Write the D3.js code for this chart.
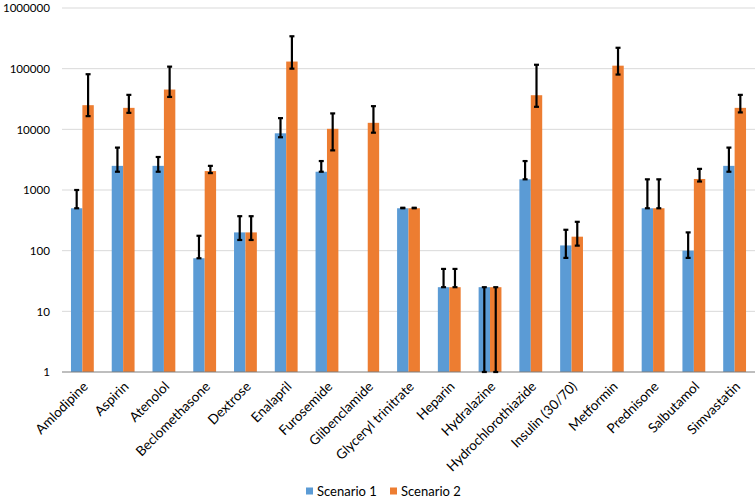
<!DOCTYPE html>
<html><head><meta charset="utf-8">
<script src="https://cdn.jsdelivr.net/npm/d3@7"></script>
<style>body{margin:0;background:#fff}svg{display:block}</style>
</head><body>
<svg id="c" width="756" height="499"></svg>
<script>
const categories = ["Amlodipine","Aspirin","Atenolol","Beclomethasone","Dextrose","Enalapril","Furosemide","Glibenclamide","Glyceryl trinitrate","Heparin","Hydralazine","Hydrochlorothiazide","Insulin (30/70)","Metformin","Prednisone","Salbutamol","Simvastatin"];
const scenario1 = [500,2500,2500,75,200,8600,2000,null,500,25,25,1500,122,null,500,100,2500];
const scenario1Low = [500,2000,2000,75,150,7400,2000,null,500,25,0,1500,76,null,500,76,2000];
const scenario1High = [1000,5000,3500,176,370,15300,3000,null,510,50,25,3000,221,null,1500,200,5000];
const scenario2 = [25000,22600,45300,2050,200,131000,10200,12800,500,25,25,36500,170,112000,500,1520,22600];
const scenario2Low = [16500,18700,34200,1900,150,100000,4500,8800,500,25,0,23500,121,80000,500,1380,19000];
const scenario2High = [81000,37000,108000,2500,370,342000,18300,24100,510,50,25,116000,299,221000,1500,2230,37000];
const yTicks = [1,10,100,1000,10000,100000,1000000];
const seriesNames = ["Scenario 1","Scenario 2"];
const colors = ["#5B9BD5","#ED7D31"];

const svg = d3.select("#c");
const m = {left:62, right:1, top:8, bottom:372};
const x = d3.scaleBand().domain(categories).range([m.left, 756-m.right]).paddingInner(0.44).paddingOuter(0.22);
const x1 = d3.scaleBand().domain([0,1]).range([0, x.bandwidth()]);
const y = d3.scaleLog().domain([1,1000000]).range([m.bottom, m.top]);
const font = "Lato, 'Liberation Sans', sans-serif";

// gridlines
svg.append("g").selectAll("line").data(yTicks.slice(1)).join("line")
  .attr("x1", m.left).attr("x2", 756-m.right)
  .attr("y1", d=>y(d)).attr("y2", d=>y(d))
  .attr("stroke","#D9D9D9").attr("stroke-width",1);

// y labels
svg.append("g").selectAll("text").data(yTicks).join("text")
  .attr("x", 50).attr("y", d=>y(d)).attr("dy","0.36em")
  .attr("text-anchor","end").attr("font-family",font).attr("font-size",11.6).attr("fill","#000")
  .text(d=>d3.format("d")(d));

const series = [
  {v:scenario1, lo:scenario1Low, hi:scenario1High},
  {v:scenario2, lo:scenario2Low, hi:scenario2High}
];

series.forEach((s,si)=>{
  const data = categories.map((c,i)=>({c, v:s.v[i], lo:s.lo[i], hi:s.hi[i]})).filter(d=>d.v!=null);
  svg.append("g").selectAll("rect").data(data).join("rect")
    .attr("x", d=>x(d.c)+x1(si)).attr("width", x1.bandwidth())
    .attr("y", d=>y(d.v)).attr("height", d=>y(1)-y(d.v))
    .attr("fill", colors[si]);
});

// axis line
svg.append("line").attr("x1",m.left).attr("x2",756-m.right).attr("y1",y(1)).attr("y2",y(1))
  .attr("stroke","#7F7F7F").attr("stroke-width",1.2);

// error bars
series.forEach((s,si)=>{
  const data = categories.map((c,i)=>({c, v:s.v[i], lo:s.lo[i], hi:s.hi[i]})).filter(d=>d.v!=null);
  const g = svg.append("g").attr("stroke","#000").attr("stroke-width",2.2);
  data.forEach(d=>{
    const cx = x(d.c)+x1(si)+x1.bandwidth()/2;
    const yl = y(Math.max(1,d.lo)), yh = y(d.hi);
    g.append("line").attr("x1",cx).attr("x2",cx).attr("y1",yl).attr("y2",yh);
    g.append("line").attr("x1",cx-2.5).attr("x2",cx+2.5).attr("y1",yh).attr("y2",yh);
    g.append("line").attr("x1",cx-2.5).attr("x2",cx+2.5).attr("y1",yl).attr("y2",yl);
  });
});

// x labels
svg.append("g").selectAll("text").data(categories).join("text")
  .attr("transform", d=>`translate(${x(d)+x.bandwidth()/2+3},${m.bottom+12}) rotate(-45)`)
  .attr("text-anchor","end").attr("dy","0.35em")
  .attr("font-family",font).attr("font-size",13.5).attr("fill","#000")
  .text(d=>d);

// legend
const lg = svg.append("g").attr("transform","translate(306,491)");
const items = [{n:seriesNames[0],c:colors[0],x:0},{n:seriesNames[1],c:colors[1],x:84}];
items.forEach(it=>{
  lg.append("rect").attr("x",it.x).attr("y",-3.5).attr("width",7).attr("height",7).attr("fill",it.c);
  lg.append("text").attr("x",it.x+11).attr("y",0).attr("dy","0.35em")
    .attr("font-family",font).attr("font-size",13).attr("fill","#000").text(it.n);
});
</script>
</body></html>
